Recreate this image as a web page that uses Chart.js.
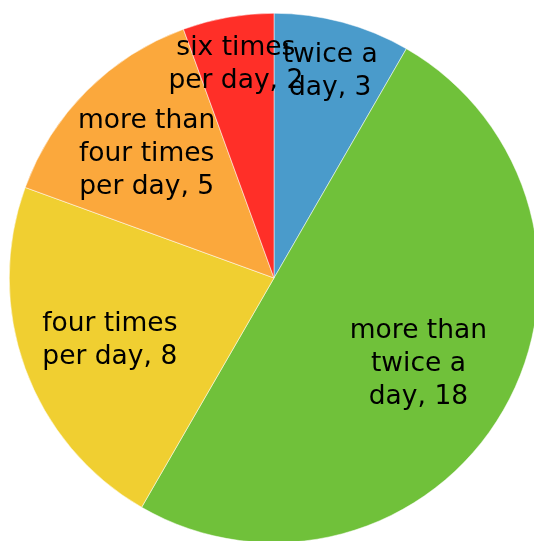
<!DOCTYPE html>
<html lang="en">
<head>
    <meta charset="UTF-8">
    <title>Frequency</title>
    <script src="https://cdn.jsdelivr.net/npm/chart.js"></script>
    <style>
        html, body { margin: 0; padding: 0; overflow: hidden; background: #fff; }
        #wrap { position: absolute; left: 0; top: 0; width: 548px; height: 556px; }
    </style>
</head>
<body>
    <div id="wrap">
        <canvas id="grafico1" width="548" height="556"></canvas>
    </div>

    <script>
        const categorias = ["twice a day", "more than twice a day", "four times per day", "more than four times per day", "six times per day"]
        const valores = [3, 18, 8, 5, 2]
        const cores = ["#4a9bcb", "#70c13a", "#f0cf31", "#fba83c", "#ff2f28"]

        // how far out from the centre each label sits (fraction of radius)
        const raioRotulo = [0.82, 0.63, 0.66, 0.68, 0.83]

        const quebraTexto = (ctx, texto, largura) => {
            const palavras = texto.split(" ")
            const linhas = []
            let atual = ""
            palavras.forEach(p => {
                const teste = atual ? atual + " " + p : p
                if (atual && ctx.measureText(teste).width > largura) {
                    linhas.push(atual)
                    atual = p
                } else {
                    atual = teste
                }
            })
            if (atual) linhas.push(atual)
            return linhas
        }

        const rotulos = {
            id: "rotulos",
            afterDatasetsDraw(chart) {
                const ctx = chart.ctx
                const meta = chart.getDatasetMeta(0)
                ctx.save()
                ctx.font = "26.5px 'DejaVu Sans', Verdana, sans-serif"
                ctx.fillStyle = "#000"
                ctx.textAlign = "center"
                ctx.textBaseline = "middle"
                meta.data.forEach((arc, i) => {
                    const p = arc.getProps(["x", "y", "startAngle", "endAngle", "outerRadius"], true)
                    const meio = (p.startAngle + p.endAngle) / 2
                    const r = p.outerRadius * raioRotulo[i]
                    const cx = p.x + Math.cos(meio) * r
                    const cy = p.y + Math.sin(meio) * r + 3
                    const linhas = quebraTexto(ctx, categorias[i] + ", " + valores[i], 148)
                    const alt = 33
                    linhas.forEach((l, k) => {
                        ctx.fillText(l, cx, cy + (k - (linhas.length - 1) / 2) * alt)
                    })
                })
                ctx.restore()
            }
        }

        const grafico1 = new Chart(document.getElementById("grafico1"), {
            type: "pie",
            data: {
                labels: categorias,
                datasets: [{
                    data: valores,
                    backgroundColor: cores,
                    borderColor: "#ffffff",
                    borderWidth: 0.5
                }]
            },
            options: {
                responsive: false,
                animation: false,
                layout: { padding: { left: 9, right: 9, top: 13, bottom: 13 } },
                plugins: {
                    legend: { display: false },
                    tooltip: { enabled: false }
                }
            },
            plugins: [rotulos]
        })
    </script>
</body>
</html>
